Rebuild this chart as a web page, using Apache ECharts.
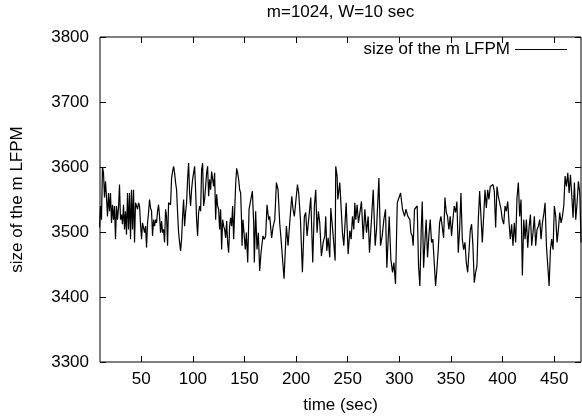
<!DOCTYPE html>
<html><head><meta charset="utf-8">
<script src="https://cdn.jsdelivr.net/npm/echarts@6/dist/echarts.min.js"></script>
<style>html,body{margin:0;padding:0;background:#fff}#c{width:582px;height:419px}</style>
</head><body><div id="c"></div>
<script>
const titleText = 'm=1024, W=10 sec';
const seriesName = 'size of the m LFPM';
const xName = 'time (sec)';
const yName = 'size of the m LFPM';
const xTicks = [50, 100, 150, 200, 250, 300, 350, 400, 450];
const yTicks = [3300, 3400, 3500, 3600, 3700, 3800];

// first stretch: readings taken at a regular sampling interval
const startA = 9.5, stepA = 0.97;
const sizesA = [
 3507,3540,3519,3600,3591,3553,3578,3553,3524,3560,
 3532,3560,3514,3542,3519,3540,3489,3540,3519,3537,
 3573,3519,3527,3512,3542,3504,3532,3496,3560,3504,
 3560,3489,3565,3504,3565,3484,3545,3540,3535,3545,
 3540,3512,3489,3514,3512,3499,3509,3476,3514,3530,
 3550,3537,3532,3494,3519,3509,3519,3514,3532,3542,
 3524,3499,3517,3499,3504,3484,3535,3524,3479,3545,
 3542,3542,3583,3593,3601,3591,3576,3565,3530,3499,
 3484,3471,3489,3524,3550,3509,3530,3545,3581,3606,
 3560,3540,3565,3581,3591,3601,3565,3519,3494,3530,
 3540,3532,3596,3606,3540,3550,3570,3591,3601,3555,
 3581,3565,3593,3596,3570,3591,3519,3558,3540,3535,
 3504,3535,3473,3519,3509,3504,3491,3517,3484,3468,
 3509,3522,3509,3540,3489,3491,3573,3598,3591,3581,
 3565,3560];

// middle stretch: [time, size]
const pointsB = [
 [147.2,3514],[147.6,3479],[148.5,3519],[149.5,3517],[150.8,3473],[151.8,3499],[153.1,3453],[154.4,3535],
 [155.7,3535],[157.6,3563],[158.9,3514],[159.5,3453],[160.8,3532],[162.1,3473],[163.4,3499],[164.7,3440],
 [166.0,3468],[167.9,3494],[169.2,3489],[170.5,3494],[171.8,3542],[173.4,3519],[174.4,3524],[176.3,3491],
 [177.6,3507],[179.3,3519],[180.9,3576],[182.5,3565],[184.1,3514],[185.4,3489],[188.3,3428],[190.6,3509],
 [192.2,3479],[193.8,3514],[195.8,3555],[197.0,3535],[198.3,3524],[201.3,3573],[202.5,3560],[204.2,3519],
 [206.1,3438],[208.0,3524],[209.3,3530],[210.6,3494],[211.9,3494],[214.2,3553],[216.1,3453],[217.7,3540],
 [219.0,3565],[220.3,3499],[221.6,3532],[222.9,3514],[224.5,3463],[226.2,3484],[227.8,3494],[228.7,3524],
 [229.7,3471],[231.0,3491],[232.6,3461],[233.6,3537],[235.9,3494],[237.8,3456],[238.4,3601],[239.7,3586],
 [240.4,3550],[242.3,3576],[244.9,3499],[246.2,3479],[248.5,3545],[250.4,3466],[252.0,3502],[253.3,3489],
 [254.6,3524],[255.9,3504],[256.9,3545],[257.8,3519],[259.1,3542],[260.4,3514],[263.3,3547],[265.0,3489],
 [266.6,3535],[268.2,3499],[269.8,3524],[271.1,3468],[273.0,3519],[274.7,3565],[276.6,3479],[277.9,3504],
 [280.2,3583],[281.8,3479],[283.4,3494],[285.0,3519],[286.6,3535],[287.9,3445],[290.2,3524],[291.8,3458],
 [293.4,3438],[294.7,3453],[296.3,3420],[298.0,3545],[301.2,3560],[303.1,3535],[305.1,3524],[306.4,3535],
 [308.3,3524],[310.2,3519]];

// last stretch: [time, size]
const pointsC = [
 [311.2,3499],[312.5,3494],[313.4,3479],[314.7,3535],[316.0,3537],[317.3,3540],[318.6,3448],[319.9,3417],
 [321.2,3504],[322.2,3547],[323.5,3445],[324.8,3486],[326.0,3519],[327.3,3461],[328.6,3494],[329.9,3519],
 [331.2,3484],[332.5,3489],[333.8,3453],[335.1,3417],[336.4,3443],[337.7,3473],[339.0,3514],[340.3,3524],
 [341.6,3527],[342.9,3491],[344.2,3553],[345.5,3530],[346.7,3524],[348.0,3504],[349.3,3524],[350.6,3494],
 [351.9,3519],[353.2,3540],[354.5,3530],[355.8,3547],[357.1,3468],[358.4,3504],[359.7,3560],[361.0,3489],
 [362.3,3473],[363.6,3484],[364.9,3453],[366.2,3438],[367.4,3468],[368.7,3502],[370.0,3512],[371.3,3479],
 [372.6,3422],[373.9,3438],[375.2,3448],[376.5,3519],[377.8,3563],[379.1,3560],[380.4,3484],[381.7,3524],
 [383.0,3565],[384.3,3537],[385.6,3565],[386.8,3550],[388.1,3570],[389.4,3568],[390.7,3573],[392.0,3563],
 [393.3,3507],[394.6,3570],[395.9,3555],[397.2,3545],[398.5,3535],[399.8,3519],[401.1,3512],[402.4,3540],
 [403.7,3532],[405.0,3547],[406.3,3514],[407.5,3489],[408.8,3512],[410.1,3479],[411.4,3514],[412.7,3484],
 [414.0,3553],[415.3,3576],[416.6,3524],[417.9,3550],[419.2,3433],[420.5,3519],[421.8,3489],[423.1,3519],
 [424.4,3476],[425.7,3507],[427.0,3527],[428.2,3479],[429.5,3499],[430.8,3524],[432.1,3479],[433.4,3504],
 [434.7,3509],[436.0,3519],[437.3,3489],[438.6,3514],[439.9,3527],[441.2,3545],[442.5,3479],[443.8,3479],
 [445.1,3417],[446.4,3473],[447.6,3489],[448.9,3473],[450.2,3540],[451.5,3524],[452.8,3484],[454.1,3504],
 [455.4,3530],[456.7,3514],[458.0,3524],[459.3,3540],[460.6,3586],[461.9,3570],[463.2,3591],[464.5,3560],
 [465.8,3588],[467.1,3555],[468.3,3522],[469.6,3576],[470.9,3519],[472.2,3545],[473.5,3578],[474.8,3560],
 [476.1,3484]];

const seriesData = sizesA.map((v, i) => [startA + stepA * i, v]).concat(pointsB, pointsC);

const FONT = '"Liberation Sans", Arial, Helvetica, sans-serif';
const FS = 17;
const chart = echarts.init(document.getElementById('c'), null, {renderer: 'canvas'});
const tickStyle = {show: true, inside: true, length: 6, lineStyle: {color: '#000', width: 1}};
chart.setOption({
  animation: false,
  backgroundColor: '#fff',
  textStyle: {fontFamily: FONT},
  title: {
    text: titleText, left: 340.5, top: 4, textAlign: 'center', padding: 0,
    textStyle: {fontFamily: FONT, fontSize: FS, fontWeight: 'normal', color: '#000'}
  },
  legend: {
    data: [{name: seriesName, icon: 'rect'}], right: 15, top: 41, align: 'right',
    itemWidth: 52, itemHeight: 1, padding: 0,
    itemStyle: {color: '#000'},
    textStyle: {fontFamily: FONT, fontSize: FS, color: '#000'}
  },
  grid: {left: 100, right: 1, top: 37, bottom: 56, show: true, borderColor: '#000', borderWidth: 1, backgroundColor: 'transparent'},
  xAxis: [{
    type: 'value', min: 10, max: 476, position: 'bottom',
    name: xName, nameLocation: 'middle', nameGap: 35,
    nameTextStyle: {fontFamily: FONT, fontSize: FS, color: '#000'},
    axisLine: {show: false}, splitLine: {show: false},
    axisTick: Object.assign({customValues: xTicks}, tickStyle),
    axisLabel: {customValues: xTicks, margin: 9, fontFamily: FONT, fontSize: FS, color: '#000'}
  }, {
    type: 'value', min: 10, max: 476, position: 'top',
    axisLine: {show: false}, splitLine: {show: false},
    axisTick: Object.assign({customValues: xTicks}, tickStyle),
    axisLabel: {show: false}
  }],
  yAxis: [{
    type: 'value', min: 3300, max: 3800, interval: 100, position: 'left',
    name: yName, nameLocation: 'middle', nameGap: 74,
    nameTextStyle: {fontFamily: FONT, fontSize: FS, color: '#000'},
    axisLine: {show: false}, splitLine: {show: false},
    axisTick: tickStyle,
    axisLabel: {margin: 11, fontFamily: FONT, fontSize: FS, color: '#000', formatter: v => String(v)}
  }, {
    type: 'value', min: 3300, max: 3800, interval: 100, position: 'right',
    axisLine: {show: false}, splitLine: {show: false},
    axisTick: tickStyle, axisLabel: {show: false}
  }],
  series: [{
    name: seriesName, type: 'line', data: seriesData,
    symbol: 'none', showSymbol: false,
    lineStyle: {color: '#000', width: 1.2}, itemStyle: {color: '#000'}
  }]
});
</script>
</body></html>
